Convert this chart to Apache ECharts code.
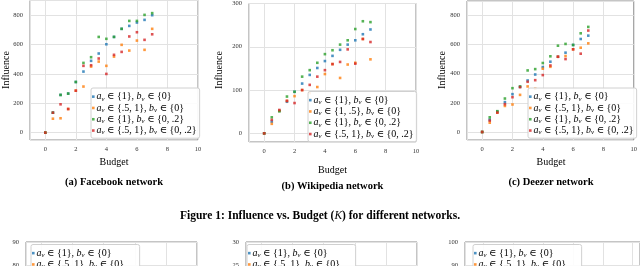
<!DOCTYPE html>
<html>
<head>
<meta charset="utf-8">
<script src="https://cdn.jsdelivr.net/npm/echarts@6/dist/echarts.min.js"></script>
<style>
html,body{margin:0;padding:0;background:#fff;overflow:hidden;}
#chart{width:640px;height:400px;}
</style>
</head>
<body>
<div id="chart"></div>
<script>
// Budget values (x)
const budget = [0, 0.5, 1, 1.5, 2, 2.5, 3, 3.5, 4, 4.5, 5, 5.5, 6, 6.5, 7];

// Series names
const nameA1B0 = 'a_v ∈ {1}, b_v ∈ {0}';
const nameA51B0 = 'a_v ∈ {.5, 1}, b_v ∈ {0}';
const nameA15B0 = 'a_v ∈ {1, .5}, b_v ∈ {0}';
const nameA1B02 = 'a_v ∈ {1}, b_v ∈ {0, .2}';
const nameA51B02 = 'a_v ∈ {.5, 1}, b_v ∈ {0, .2}';

// (a) Facebook network
const fbA1B0   = [0, 136, 257, 266, 345, 416, 489, 539, 602, 652, 707, 727, 750, 768, 800];
const fbA51B0  = [0, 95, 98, 161, 286, 314, 450, 484, 455, 518, 598, 559, 627, 564, 707];
const fbA1B02  = [0, 136, 257, 266, 345, 475, 514, 652, 639, 652, 707, 761, 761, 802, 814];
const fbA51B02 = [0, 136, 193, 161, 286, 455, 459, 505, 400, 530, 550, 655, 684, 632, 670];

// (b) Wikipedia network
const wikiA1B0   = [0, 27, 52, 73, 96, 115, 135, 151, 167, 179, 193, 205, 215, 229, 240];
const wikiA15B0  = [0, 22, 52, 75, 86, 100, 93, 107, 137, 160, 128, 159, 163, 218, 171];
const wikiA1B02  = [0, 37, 51, 85, 96, 131, 146, 163, 183, 192, 205, 215, 241, 259, 257];
const wikiA51B02 = [0, 31, 54, 75, 70, 100, 112, 131, 146, 160, 165, 194, 161, 218, 211];

// (c) Deezer network
const dzA1B0   = [0, 85, 140, 205, 260, 310, 354, 395, 446, 483, 517, 545, 598, 639, 662];
const dzA51B0  = [0, 64, 133, 179, 189, 255, 313, 297, 435, 448, 517, 522, 568, 579, 609];
const dzA1B02  = [0, 101, 143, 230, 301, 313, 423, 432, 474, 520, 593, 605, 598, 678, 722];
const dzA51B02 = [0, 78, 133, 191, 239, 308, 345, 356, 391, 457, 517, 501, 568, 538, 697];

// Texts
const yLabel = 'Influence';
const xLabel = 'Budget';
const captions = ['(a) Facebook network', '(b) Wikipedia network', '(c) Deezer network'];

const colors = ['#1f77b4', '#ff7f0e', '#2ca02c', '#d62728'];
const SERIF = '"Liberation Serif", "DejaVu Serif", serif';

const grids = [
  {left: 30, top: 0.5, width: 168, height: 139.5},
  {left: 249, top: 3, width: 167, height: 139},
  {left: 467, top: 1, width: 168, height: 139},
  {left: 26, top: 242, width: 171, height: 138},
  {left: 246, top: 242, width: 171, height: 138},
  {left: 465, top: 242, width: 179, height: 138}
].map(g => Object.assign({show: true, borderColor: '#8a8a8a', borderWidth: 1, containLabel: false}, g));

const splitLine = {show: true, lineStyle: {color: '#e2e2e2', width: 1}};
function xAxis(idx, min, max, showLabel) {
  return {
    type: 'value', gridIndex: idx, min: min, max: max, splitNumber: 5,
    axisLine: {show: false}, axisTick: {show: false}, splitLine: splitLine,
    axisLabel: {show: showLabel, fontSize: 6.5, color: '#333', fontFamily: SERIF, margin: 6,
      formatter: v => (Math.abs(v % 2) < 1e-9 ? String(v) : '')}
  };
}
function yAxis(idx, min, max, opts, step) {
  return Object.assign({
    type: 'value', gridIndex: idx, min: min, max: max,
    axisLine: {show: false}, axisTick: {show: false}, splitLine: splitLine,
    axisLabel: {fontSize: 6.5, color: '#333', fontFamily: SERIF, margin: 7,
      formatter: v => (Math.abs(v % step) < 1e-9 ? String(v) : '')}
  }, opts);
}

const xAxes = [
  xAxis(0, -1, 10, true), xAxis(1, -1, 10, true), xAxis(2, -1, 10, true),
  xAxis(3, -1, 10, false), xAxis(4, -1, 10, false), xAxis(5, -1.25, 10.5, false)
];
const yAxes = [
  yAxis(0, -50, 900, {splitNumber: 5}, 200),
  yAxis(1, -20, 300, {splitNumber: 3}, 100),
  yAxis(2, -55, 900, {splitNumber: 5}, 200),
  yAxis(3, 30, 90, {interval: 10}, 10),
  yAxis(4, 0, 30, {interval: 5}, 5),
  yAxis(5, 40, 100, {interval: 10}, 10)
];

function sc(name, vals, color, idx) {
  const data = [];
  vals.forEach((v, i) => { if (v !== null) data.push([budget[i], v]); });
  return {
    type: 'scatter', name: name, xAxisIndex: idx, yAxisIndex: idx, data: data,
    symbol: 'rect', symbolSize: 2.6, itemStyle: {color: color}, silent: true
  };
}

const panels = [
  [[nameA1B0, fbA1B0], [nameA51B0, fbA51B0], [nameA1B02, fbA1B02], [nameA51B02, fbA51B02]],
  [[nameA1B0, wikiA1B0], [nameA15B0, wikiA15B0], [nameA1B02, wikiA1B02], [nameA51B02, wikiA51B02]],
  [[nameA1B0, dzA1B0], [nameA51B0, dzA51B0], [nameA1B02, dzA1B02], [nameA51B02, dzA51B02]]
];
const series = [];
panels.forEach((p, gi) => p.forEach((s, si) => series.push(sc(s[0], s[1], colors[si], gi))));
// bottom row (no data visible in this crop): legend-only series
[3, 4, 5].forEach(gi => [nameA1B0, nameA51B0, nameA1B02, nameA51B02].forEach((n, si) =>
  series.push(sc(n, [], colors[si], gi))));

const FS = 10;
const rich = {
  i: {fontStyle: 'italic', fontFamily: SERIF, fontSize: FS, color: '#000'},
  s: {fontStyle: 'italic', fontFamily: SERIF, fontSize: 6.8, color: '#000', verticalAlign: 'bottom', padding: [4, 0, 0, 0]}
};
function legend(left, top, names) {
  return {
    left: left, top: top, orient: 'vertical', itemGap: 0, itemWidth: 2.6, itemHeight: 2.6,
    icon: 'rect', padding: [3, 3, 2, 1], borderColor: '#d0d0d0', borderWidth: 1, borderRadius: 2,
    backgroundColor: 'rgba(255,255,255,0.9)', selectedMode: false, data: names,
    formatter: n => n.replace(/([ab])_v/g, '{i|$1}{s|v}'),
    textStyle: {fontFamily: SERIF, fontSize: FS, color: '#000', lineHeight: 11.3, rich: rich, padding: [0, 0, 0, -3]}
  };
}
const stdNames = [nameA1B0, nameA51B0, nameA1B02, nameA51B02];
const legends = [
  legend(91, 88, stdNames),
  legend(308, 91.5, [nameA1B0, nameA15B0, nameA1B02, nameA51B02]),
  legend(528, 88, stdNames),
  legend(31, 244.5, stdNames),
  legend(247, 244.5, stdNames),
  legend(473, 244.5, stdNames)
];

function txt(x, y, text, opts) {
  return {type: 'text', x: x, y: y, rotation: (opts && opts.rot) || 0, silent: true,
    style: Object.assign({text: text, align: 'center', verticalAlign: 'middle', fill: '#000',
      fontFamily: SERIF, fontSize: 10}, (opts && opts.style) || {})};
}
const graphic = [
  txt(6.5, 70, yLabel, {rot: Math.PI / 2}),
  txt(219.5, 70, yLabel, {rot: Math.PI / 2}),
  txt(442.5, 70, yLabel, {rot: Math.PI / 2}),
  txt(114, 162, xLabel), txt(332.5, 170, xLabel), txt(551, 162, xLabel),
  txt(114, 182, captions[0], {style: {fontWeight: 'bold', fontSize: 10.5}}),
  txt(332.5, 186, captions[1], {style: {fontWeight: 'bold', fontSize: 10.5}}),
  txt(551, 182, captions[2], {style: {fontWeight: 'bold', fontSize: 10.5}}),
  txt(320, 216, '{b|Figure 1: Influence vs. Budget (}{k|K}{b|) for different networks.}', {style: {
    rich: {
      b: {fontWeight: 'bold', fontFamily: SERIF, fontSize: 11.5, fill: '#000'},
      k: {fontStyle: 'italic', fontFamily: SERIF, fontSize: 11.5, fill: '#000'}
    }}})
];

const chart = echarts.init(document.getElementById('chart'), null, {renderer: 'canvas'});
chart.setOption({
  animation: false,
  backgroundColor: '#fff',
  grid: grids, xAxis: xAxes, yAxis: yAxes, series: series, legend: legends, graphic: graphic
});
</script>
</body>
</html>
